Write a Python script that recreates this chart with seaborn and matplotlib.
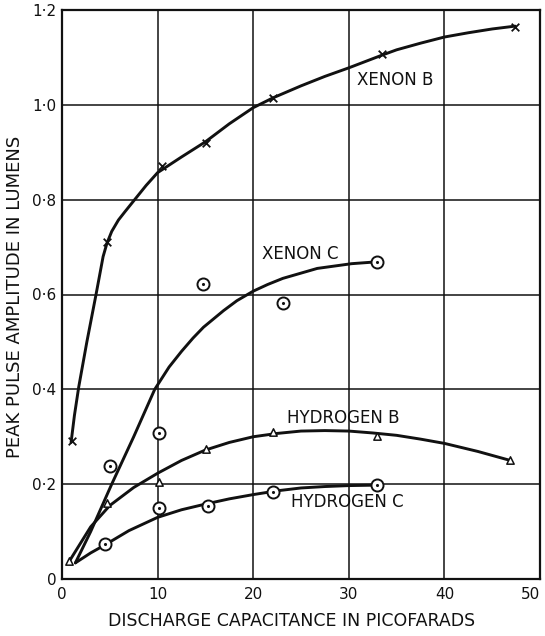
import matplotlib
matplotlib.use("Agg")
import matplotlib.pyplot as plt
import seaborn as sns
import pandas as pd

# Measured points (capacitance in pF, peak amplitude in lumens)
xenon_b_x = [1.0, 4.7, 10.5, 15.1, 22.1, 33.5, 47.4]
xenon_b_y = [0.29, 0.71, 0.87, 0.92, 1.015, 1.107, 1.165]

xenon_c_x = [5.0, 10.1, 14.8, 23.1, 33.0]
xenon_c_y = [0.238, 0.307, 0.623, 0.583, 0.669]

hydrogen_b_x = [0.75, 4.7, 10.1, 15.1, 22.1, 32.9, 46.9]
hydrogen_b_y = [0.037, 0.16, 0.204, 0.274, 0.31, 0.301, 0.25]

hydrogen_c_x = [4.5, 10.1, 15.3, 22.1, 33.0]
hydrogen_c_y = [0.074, 0.149, 0.153, 0.183, 0.198]

# Hand-faired curves drawn through each set of points
xenon_b_curve_x = [0.95, 1.3, 1.75, 2.6, 3.56, 4.3, 4.7, 5.2, 5.9, 6.6, 7.6, 8.8, 10.0, 12.5, 15.0,
                   17.5, 20.0, 22.1, 25.0, 27.5, 30.0, 33.5, 35.0, 37.5, 40.0,
                   42.5, 45.0, 47.4]
xenon_b_curve_y = [0.288, 0.345, 0.405, 0.50, 0.60, 0.68, 0.708, 0.733, 0.757, 0.775, 0.80, 0.83, 0.857, 0.89, 0.922,
                   0.96, 0.994, 1.015, 1.04, 1.06, 1.078, 1.105, 1.116, 1.13, 1.143,
                   1.152, 1.16, 1.166]

xenon_c_curve_x = [1.4, 3.0, 5.2, 7.5, 9.7, 11.2, 12.5, 13.7, 14.8, 16.9, 18.3, 20.0, 21.5, 23.1,
                   26.7, 30.3, 33.0]
xenon_c_curve_y = [0.034, 0.10, 0.20, 0.30, 0.40, 0.447, 0.48, 0.508, 0.531, 0.566, 0.587, 0.607, 0.621, 0.634,
                   0.655, 0.665, 0.669]

hydrogen_b_curve_x = [0.75, 3.0, 5.0, 7.5, 10.0, 12.5, 15.0, 17.5, 20.0, 22.5, 25.0,
                      27.5, 30.0, 32.5, 35.0, 37.5, 40.0, 43.5, 46.9]
hydrogen_b_curve_y = [0.037, 0.11, 0.155, 0.193, 0.223, 0.25, 0.272, 0.288, 0.300, 0.307, 0.312,
                      0.313, 0.312, 0.308, 0.303, 0.295, 0.286, 0.269, 0.25]

hydrogen_c_curve_x = [1.4, 3.0, 4.5, 7.0, 10.0, 12.5, 15.0, 17.5, 20.0, 22.5, 25.0,
                      27.5, 30.0, 33.0]
hydrogen_c_curve_y = [0.034, 0.055, 0.072, 0.102, 0.13, 0.146, 0.158, 0.169, 0.178, 0.186, 0.192,
                      0.195, 0.197, 0.198]

series_names = ["XENON B", "XENON C", "HYDROGEN B", "HYDROGEN C"]
label_pos_x = [30.9, 20.9, 23.5, 24.0]
label_pos_y = [1.053, 0.686, 0.339, 0.162]

x_ticks = [0, 10, 20, 30, 40, 50]
x_tick_labels = ["0", "10", "20", "30", "40", "50"]
y_ticks = [0, 0.2, 0.4, 0.6, 0.8, 1.0, 1.2]
y_tick_labels = ["0", "0·2", "0·4", "0·6", "0·8", "1·0", "1·2"]

x_title = "DISCHARGE CAPACITANCE IN PICOFARADS"
y_title = "PEAK PULSE AMPLITUDE IN LUMENS"

sns.set_style("white")
plt.rcParams["font.family"] = ["DejaVu Sans"]

fig = plt.figure(figsize=(5.45, 6.36), dpi=100)
ax = fig.add_axes([62 / 545, 57 / 636, 478 / 545, 569 / 636])

ink = "#111111"

# grid
for xv in x_ticks[1:-1]:
    ax.axvline(xv, color=ink, lw=1.1, zorder=1)
for yv in y_ticks[1:-1]:
    ax.axhline(yv, color=ink, lw=1.1, zorder=1)

curves = [
    (xenon_b_curve_x, xenon_b_curve_y),
    (xenon_c_curve_x, xenon_c_curve_y),
    (hydrogen_b_curve_x, hydrogen_b_curve_y),
    (hydrogen_c_curve_x, hydrogen_c_curve_y),
]
for cx, cy in curves:
    df = pd.DataFrame({"x": cx, "y": cy})
    sns.lineplot(data=df, x="x", y="y", sort=False, estimator=None,
                 color=ink, lw=2.1, ax=ax, zorder=3)

# crosses
sns.scatterplot(x=xenon_b_x, y=xenon_b_y, marker="x", s=30, color=ink,
                linewidth=1.3, ax=ax, zorder=4)
# dotted circles
for px, py in [(xenon_c_x, xenon_c_y), (hydrogen_c_x, hydrogen_c_y)]:
    sns.scatterplot(x=px, y=py, marker="o", s=75, facecolor="white",
                    edgecolor=ink, linewidth=1.4, ax=ax, zorder=4)
    sns.scatterplot(x=px, y=py, marker="o", s=5, color=ink,
                    linewidth=0, ax=ax, zorder=5)
# open triangles
sns.scatterplot(x=hydrogen_b_x, y=hydrogen_b_y, marker="^", s=28,
                facecolor="white", edgecolor=ink, linewidth=1.1, ax=ax, zorder=4)

for name, lx, ly in zip(series_names, label_pos_x, label_pos_y):
    ax.text(lx, ly, name, ha="left", va="center", fontsize=12, color=ink, zorder=6)

ax.set_xlim(0, 50)
ax.set_ylim(0, 1.2)
ax.set_xticks(x_ticks)
ax.set_xticklabels(x_tick_labels, fontsize=11, color=ink)
ax.set_yticks(y_ticks)
ax.set_yticklabels(y_tick_labels, fontsize=11, color=ink)
ax.tick_params(axis="x", length=0, pad=6)
ax.tick_params(axis="y", length=0, pad=4)
# keep the last x label inside the figure edge
ax.get_xticklabels()[-1].set_horizontalalignment("right")
ax.get_xticklabels()[-1].set_x(50.3)
ax.set_xlabel("")
ax.set_ylabel("")
for sp in ax.spines.values():
    sp.set_color(ink)
    sp.set_linewidth(1.6)

fig.text(292 / 545, 1 - 621 / 636, x_title, ha="center", va="center",
         fontsize=12.5, color=ink)
fig.text(15 / 545, 1 - 297 / 636, y_title, ha="center", va="center",
         rotation=90, fontsize=13, color=ink)

fig.savefig("out.png", dpi=100, facecolor="white")
